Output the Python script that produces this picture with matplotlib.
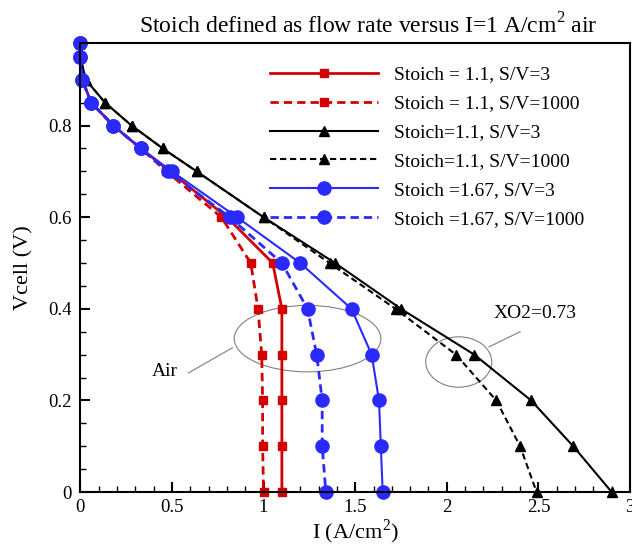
import matplotlib
matplotlib.use("Agg")
import matplotlib.pyplot as plt
from matplotlib.patches import Ellipse
from matplotlib.ticker import MultipleLocator

plt.rcParams["font.family"] = ["Liberation Serif", "DejaVu Serif"]
plt.rcParams["mathtext.fontset"] = "custom"
plt.rcParams["mathtext.rm"] = "Liberation Serif"

# cell voltage levels (V)
vcell = [0.98, 0.95, 0.9, 0.85, 0.8, 0.75, 0.7, 0.6, 0.5, 0.4, 0.3, 0.2, 0.1, 0.0]

# current density (A/cm2) for each case
i_red_sv3 = [0, 0, 0.01, 0.06, 0.18, 0.33, 0.49, 0.80, 1.05, 1.10, 1.10, 1.10, 1.10, 1.10]
i_red_sv1000 = [0, 0, 0.01, 0.06, 0.18, 0.33, 0.47, 0.77, 0.93, 0.97, 0.99, 0.995, 0.995, 1.0]
i_blk_sv3 = [0, 0, 0.03, 0.135, 0.28, 0.45, 0.635, 1.0, 1.39, 1.75, 2.15, 2.46, 2.69, 2.90]
i_blk_sv1000 = [0, 0, 0.03, 0.135, 0.28, 0.45, 0.635, 1.0, 1.36, 1.72, 2.05, 2.27, 2.40, 2.49]
i_blu_sv3 = [0, 0, 0.01, 0.06, 0.18, 0.33, 0.50, 0.855, 1.20, 1.48, 1.59, 1.63, 1.64, 1.65]
i_blu_sv1000 = [0, 0, 0.01, 0.06, 0.18, 0.33, 0.48, 0.815, 1.10, 1.24, 1.29, 1.32, 1.32, 1.34]

labels = ["Stoich = 1.1, S/V=3", "Stoich = 1.1, S/V=1000",
          "Stoich=1.1, S/V=3", "Stoich=1.1, S/V=1000",
          "Stoich =1.67, S/V=3", "Stoich =1.67, S/V=1000"]

fig = plt.figure(figsize=(6.32, 5.45), dpi=100)
ax = fig.add_axes([0.127, 0.097, 0.870, 0.824])

red = "#d40000"
blue = "#2a2aff"
dash = (3, 1.8)

ax.plot(i_red_sv3, vcell, color=red, lw=2, marker="s", ms=6, label=labels[0], clip_on=False)
ax.plot(i_red_sv1000, vcell, color=red, lw=2, ls=(0, dash), marker="s", ms=6, label=labels[1], clip_on=False)
ax.plot(i_blk_sv3, vcell, color="black", lw=1.5, marker="^", ms=6.5, label=labels[2], clip_on=False)
ax.plot(i_blk_sv1000, vcell, color="black", lw=1.5, ls=(0, dash), marker="^", ms=6.5, label=labels[3], clip_on=False)
ax.plot(i_blu_sv3, vcell, color=blue, lw=1.5, marker="o", ms=9.5, label=labels[4], clip_on=False)
ax.plot(i_blu_sv1000, vcell, color=blue, lw=2, ls=(0, dash), marker="o", ms=9.5, label=labels[5], clip_on=False)

# annotations
ax.add_patch(Ellipse((1.24, 0.335), 0.80, 0.145, fill=False, ec="gray", lw=0.8))
ax.plot([0.59, 0.83], [0.26, 0.315], color="gray", lw=0.8)
ax.text(0.46, 0.263, "Air", fontsize=14, ha="center", va="center")
ax.add_patch(Ellipse((2.065, 0.284), 0.36, 0.11, fill=False, ec="gray", lw=0.8))
ax.plot([2.23, 2.40], [0.317, 0.35], color="gray", lw=0.8)
ax.text(2.48, 0.39, "XO2=0.73", fontsize=14, ha="center", va="center")

ax.set_xlim(0, 3)
ax.set_ylim(0, 0.98)
ax.xaxis.set_major_locator(MultipleLocator(0.5))
ax.xaxis.set_minor_locator(MultipleLocator(0.1))
ax.yaxis.set_major_locator(MultipleLocator(0.2))
ax.yaxis.set_minor_locator(MultipleLocator(0.05))
ax.xaxis.set_major_formatter(plt.FuncFormatter(lambda v, p: f"{v:g}"))
ax.yaxis.set_major_formatter(plt.FuncFormatter(lambda v, p: f"{v:g}"))
ax.tick_params(which="both", direction="in", labelsize=13.5, width=1.5)
ax.tick_params(which="major", length=7)
ax.tick_params(which="minor", length=4, width=1)
ax.tick_params(axis="y", pad=6)
ax.tick_params(axis="x", pad=5)
for s in ax.spines.values():
    s.set_linewidth(1.5)

ax.set_xlabel("I (A/cm$^2$)", fontsize=16, labelpad=1)
ax.set_ylabel("Vcell (V)", fontsize=16)
ax.yaxis.set_label_coords(-0.085, 0.5)
fig.text(0.582, 0.952, "Stoich defined as flow rate versus I=1 A/cm$^2$ air",
         fontsize=17, ha="center", va="center")

ax.legend(loc="upper left", bbox_to_anchor=(0.345, 0.949), frameon=False, numpoints=1,
          borderaxespad=0, borderpad=0,
          handlelength=5.55, handletextpad=0.82, labelspacing=0.58, fontsize=14)

fig.savefig("out.png", dpi=100)
